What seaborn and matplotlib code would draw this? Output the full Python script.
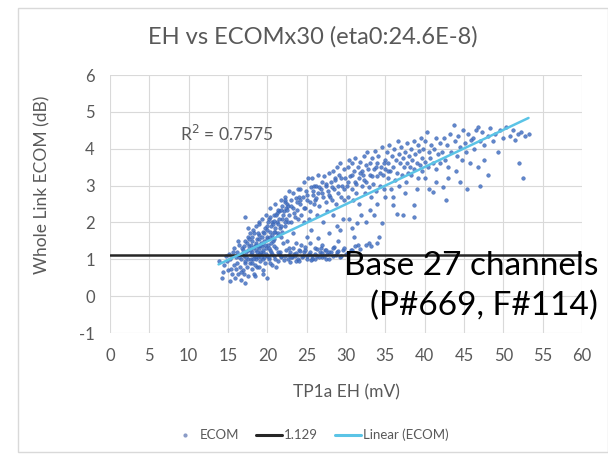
import numpy as np
import pandas as pd
import matplotlib
matplotlib.use("Agg")
import matplotlib.pyplot as plt
from matplotlib.lines import Line2D
from matplotlib.patches import Rectangle
import seaborn as sns

sns.set_theme(style="white")
plt.rcParams['font.family'] = ['Lato', 'DejaVu Sans']
plt.rcParams['axes.unicode_minus'] = False

# ---- data (approximate) ----
ecom_x = [
    13.8, 14.2, 14.5, 14.7, 15.0, 15.2, 15.3, 15.5, 15.6, 15.8, 15.9, 16.0, 14.9, 15.4, 15.7, 14.4, 16.0, 15.1,
    16.1, 16.2, 16.3, 16.4, 16.5, 16.6, 16.7, 16.8, 16.9, 17.0, 17.0, 17.1, 17.2, 17.2, 17.3, 17.4, 17.5, 17.5,
    17.6, 17.7, 17.8, 17.8, 17.9, 18.0, 16.4, 16.9, 17.4, 17.9, 16.6, 17.6, 16.3, 17.1,
    18.0, 18.1, 18.1, 18.2, 18.3, 18.3, 18.4, 18.5, 18.5, 18.6, 18.7, 18.7, 18.8, 18.9, 18.9, 19.0, 19.0, 19.1,
    19.2, 19.2, 19.3, 19.4, 19.4, 19.5, 19.5, 19.6, 19.7, 19.7, 19.8, 19.9, 19.9, 20.0, 18.2, 18.6, 19.1, 19.6,
    18.4, 18.8, 19.3, 19.8, 18.9, 19.5,
    20.0, 20.1, 20.2, 20.2, 20.3, 20.4, 20.5, 20.5, 20.6, 20.7, 20.8, 20.9, 21.0, 21.0, 21.1, 21.2, 21.3, 21.4,
    21.5, 21.5, 21.6, 21.7, 21.8, 21.9, 22.0, 20.3, 20.8, 21.3, 21.8, 20.6, 21.1, 21.6, 20.9, 21.9, 20.4,
    22.1, 22.2, 22.3, 22.3, 22.4, 22.5, 22.6, 22.7, 22.8, 22.9, 23.0, 23.0, 23.1, 23.2, 23.3, 23.4, 23.5, 23.6,
    23.7, 23.8, 23.9, 24.0, 22.5, 23.2, 23.7, 22.8, 23.5, 22.2, 23.9, 22.6,
    24.1, 24.2, 24.3, 24.4, 24.5, 24.6, 24.7, 24.8, 24.9, 25.0, 25.0, 25.1, 25.2, 25.3, 25.4, 25.5, 25.6, 25.7,
    25.8, 25.9, 26.0, 24.3, 24.8, 25.4, 25.9, 24.6, 25.3, 25.7, 24.0, 26.0,
    26.1, 26.2, 26.3, 26.4, 26.4, 26.5, 26.6, 26.7, 26.8, 26.9, 27.0, 27.1, 27.2, 27.3, 27.4, 27.5, 27.6, 27.7,
    27.8, 27.9, 28.0, 26.8, 27.4, 27.9, 26.3, 27.1, 27.6,
    28.1, 28.2, 28.3, 28.4, 28.5, 28.5, 28.6, 28.7, 28.8, 28.9, 29.0, 29.1, 29.2, 29.3, 29.3, 29.4, 29.5, 29.6,
    29.7, 29.8, 29.9, 30.0, 28.3, 29.0, 29.6, 28.8,
    30.1, 30.2, 30.3, 30.4, 30.5, 30.6, 30.7, 30.8, 30.9, 31.0, 31.0, 31.1, 31.2, 31.4, 31.3, 31.5, 31.6, 31.7,
    31.8, 31.9, 32.0, 31.5, 30.4, 32.0, 30.8,
    32.2, 32.3, 32.4, 32.5, 32.6, 32.7, 32.9, 32.9, 33.0, 33.1, 33.2, 33.3, 33.4, 33.5, 33.6, 33.7, 33.8, 33.9,
    34.0, 34.2, 34.1, 34.3, 34.4, 34.6, 34.6, 34.7, 34.8, 34.9, 35.0, 33.0, 34.0, 32.6, 35.0,
    35.2, 35.3, 35.4, 35.5, 35.6, 35.7, 35.8, 36.0, 36.0, 36.1, 36.2, 36.3, 36.5, 36.5, 36.6, 36.7, 36.8, 36.9,
    37.0, 37.1, 37.2, 37.3, 37.4, 37.5, 37.6, 37.7, 37.8, 37.9, 38.0, 36.0, 37.5,
    38.1, 38.2, 38.3, 38.4, 38.6, 38.6, 38.6, 38.7, 38.8, 39.0, 39.1, 39.2, 39.3, 39.4, 39.5, 39.6, 39.7, 39.8,
    40.0, 40.1, 40.3, 40.4, 40.6, 40.5, 40.7, 40.8, 41.0, 41.0, 41.2, 41.4, 41.5, 41.7, 41.9, 42.0, 39.0, 40.0, 41.5,
    42.2, 42.3, 42.4, 42.6, 42.8, 43.0, 43.2, 43.4, 43.7, 43.8, 44.0, 44.1, 44.3, 44.5, 44.7, 44.9, 45.1, 45.3,
    45.5, 45.7, 45.9, 43.0, 42.7, 44.5, 45.4,
    46.1, 46.3, 46.5, 46.8, 46.8, 47.0, 47.0, 47.3, 47.6, 48.0, 48.0, 48.3, 48.7, 49.0, 49.3, 49.6, 50.0, 47.5,
    50.4, 50.8, 51.2, 51.5, 51.9, 52.0, 52.3, 52.5, 52.8, 53.2,
]
ecom_y = [
    0.95, 0.50, 0.85, 1.10, 0.70, 0.40, 1.00, 0.60, 1.20, 0.85, 0.50, 1.05, 0.95, 0.75, 1.30, 0.65, 0.75, 1.15,
    0.90, 1.20, 0.60, 1.40, 0.80, 1.00, 0.45, 1.30, 0.70, 1.10, 0.60, 1.50, 0.90, 2.15, 1.20, 0.80, 1.60, 1.00,
    0.55, 1.35, 0.90, 1.70, 1.15, 0.75, 1.05, 1.25, 1.45, 1.00, 0.65, 1.85, 1.50, 0.35,
    1.20, 1.50, 0.90, 1.80, 1.10, 0.60, 1.35, 1.00, 1.90, 1.25, 0.80, 1.55, 1.05, 2.00, 0.79, 1.30, 1.65, 0.95,
    1.45, 1.15, 2.10, 0.70, 1.75, 1.20, 1.00, 1.50, 1.85, 0.90, 1.30, 0.49, 1.60, 1.10, 1.00, 1.40, 1.20, 1.05,
    0.55, 1.70, 1.35, 2.20, 1.15, 0.60,
    1.80, 1.40, 2.10, 1.00, 1.60, 2.40, 1.20, 1.90, 0.85, 1.50, 2.20, 1.10, 1.75, 2.50, 1.30, 2.00, 0.95, 1.65,
    2.30, 1.15, 1.85, 2.60, 1.05, 2.10, 1.45, 1.25, 1.35, 2.35, 1.60, 2.00, 0.80, 1.20, 1.55, 2.45, 0.90,
    2.30, 1.90, 2.70, 1.10, 2.10, 2.50, 1.00, 2.20, 2.85, 1.20, 2.00, 2.60, 1.05, 2.40, 2.80, 1.15, 2.15, 2.65,
    0.95, 2.35, 2.90, 1.25, 1.50, 1.70, 1.45, 1.30, 1.10, 2.55, 2.10, 2.00,
    2.50, 2.90, 2.20, 1.05, 2.70, 3.10, 1.20, 2.40, 2.85, 1.60, 1.00, 2.60, 3.20, 1.15, 2.30, 2.95, 1.80, 1.10,
    2.75, 3.00, 1.30, 1.40, 1.25, 1.45, 2.50, 2.00, 2.10, 3.20, 2.70, 1.00,
    2.60, 3.00, 1.10, 2.80, 1.57, 3.30, 2.45, 1.20, 2.90, 3.10, 1.05, 2.70, 3.25, 1.25, 2.55, 3.00, 1.15, 2.85,
    3.35, 1.70, 2.70, 1.30, 1.00, 1.20, 2.20, 2.00, 2.30,
    3.10, 2.60, 3.40, 1.10, 1.34, 2.90, 3.20, 2.50, 3.50, 1.20, 2.80, 3.30, 1.05, 1.79, 3.60, 2.70, 3.00, 1.25,
    3.45, 2.60, 3.20, 1.15, 2.20, 1.50, 2.10, 1.90,
    3.00, 3.50, 2.70, 3.70, 3.25, 1.25, 2.90, 3.60, 2.60, 1.60, 3.40, 3.10, 3.75, 1.98, 2.80, 3.50, 3.20, 2.50,
    3.65, 2.20, 3.00, 1.40, 2.10, 3.40, 1.85,
    3.30, 3.80, 2.80, 3.55, 3.10, 3.90, 1.43, 2.95, 3.60, 3.30, 2.70, 3.75, 3.05, 2.20, 3.45, 3.95, 2.85, 3.60,
    3.25, 1.60, 3.80, 3.00, 3.50, 1.98, 4.05, 3.30, 2.90, 3.70, 3.45, 2.35, 2.50, 2.00, 2.70,
    3.90, 3.20, 3.60, 4.10, 3.40, 2.90, 3.80, 2.46, 3.50, 4.00, 3.15, 3.70, 2.24, 3.35, 4.20, 3.85, 3.00, 3.60,
    4.05, 3.30, 3.75, 2.20, 3.50, 3.90, 3.10, 4.15, 3.60, 3.35, 3.80, 2.70, 2.80,
    3.50, 4.00, 3.30, 3.70, 2.15, 2.47, 4.20, 3.45, 3.85, 3.60, 4.10, 3.20, 3.95, 3.55, 4.30, 3.75, 3.40, 4.00,
    3.65, 4.20, 4.45, 3.50, 2.92, 3.90, 3.75, 4.10, 2.83, 3.60, 4.00, 3.45, 4.30, 3.85, 3.60, 4.15, 2.90, 3.20, 3.10,
    3.90, 2.96, 4.30, 3.70, 4.10, 3.50, 4.40, 3.90, 4.63, 4.20, 3.40, 3.80, 4.35, 4.05, 3.70, 4.50, 4.15, 3.90,
    4.40, 3.60, 4.25, 3.20, 2.60, 3.10, 2.90,
    4.30, 4.00, 4.50, 4.59, 3.50, 3.00, 4.20, 4.45, 4.10, 3.28, 4.35, 4.55, 4.20, 4.40, 3.90, 4.50, 4.30, 3.70,
    4.60, 4.35, 4.50, 4.25, 4.40, 3.60, 4.45, 3.20, 4.35, 4.40,
]
# dense cluster around 17-23 mV
dense_x = [16.8, 17.0, 17.3, 17.5, 17.7, 17.9, 18.0, 18.2, 18.3, 18.5, 18.6, 18.8, 18.9, 19.0, 19.1, 19.3, 19.4,
           19.6, 19.7, 19.9, 20.0, 20.1, 20.3, 20.4, 20.6, 20.7, 20.9, 21.0, 21.2, 21.3, 21.5, 21.7, 21.8, 22.0,
           22.2, 22.4, 17.2, 17.8, 18.4, 18.7, 19.2, 19.8, 20.2, 20.5, 20.8, 21.1, 21.4, 21.9, 22.3, 22.6]
dense_y = [1.15, 1.35, 1.05, 1.25, 1.55, 1.40, 1.60, 1.30, 1.70, 1.45, 1.10, 1.35, 1.55, 1.95, 1.40, 1.60, 1.25,
           1.70, 1.40, 1.90, 1.55, 2.00, 1.75, 2.15, 1.65, 1.95, 2.05, 1.85, 2.25, 1.70, 2.10, 2.35, 1.90, 2.20,
           2.00, 2.40, 0.95, 1.25, 0.85, 1.20, 1.05, 1.15, 1.30, 1.45, 1.75, 2.20, 1.95, 1.75, 2.60, 2.45]
# lower branch hugging the 1.129 line
branch_x = [20.2, 20.6, 21.0, 21.4, 21.8, 22.1, 22.4, 22.7, 23.0, 23.3, 23.6, 23.9, 24.2, 24.5, 24.8, 25.1, 25.4,
            25.7, 26.0, 26.3, 26.6, 26.9, 27.2, 27.5, 27.8, 28.1, 28.4, 28.7, 29.0, 29.4, 29.8, 30.2, 30.7, 31.2,
            31.8, 32.5, 33.2, 34.0, 22.9, 24.0, 25.6, 27.0]
branch_y = [1.05, 1.15, 1.00, 1.20, 1.10, 0.98, 1.25, 1.12, 1.05, 1.30, 1.18, 1.02, 1.22, 1.10, 1.32, 1.08, 1.20,
            1.00, 1.15, 1.28, 1.05, 1.18, 1.10, 1.25, 1.02, 1.20, 1.30, 1.12, 1.22, 1.08, 1.30, 1.18, 1.25, 1.35,
            1.28, 1.40, 1.35, 1.45, 0.92, 0.95, 0.97, 1.38]
# upper band 22-35 mV
band_x = [22.5, 23.0, 23.4, 23.8, 24.2, 24.6, 25.0, 25.4, 25.8, 26.2, 26.6, 27.0, 27.4, 27.8, 28.2, 28.6, 29.0,
          29.4, 29.8, 30.3, 30.8, 31.3, 31.8, 32.3, 32.8, 33.3, 33.8, 34.3, 34.8, 35.3]
band_y = [2.35, 2.45, 2.25, 2.55, 2.60, 2.40, 2.75, 2.55, 2.85, 2.65, 2.95, 2.80, 3.05, 2.75, 2.95, 3.15, 3.00,
          3.20, 2.90, 3.10, 3.30, 3.05, 3.35, 3.15, 3.45, 3.25, 3.50, 3.35, 3.60, 3.40]

threshold = 1.129
x_ticks = list(range(0, 61, 5))
y_ticks = list(range(-1, 7))

title = "EH vs ECOMx30 (eta0:24.6E-8)"
x_label = "TP1a EH (mV)"
y_label = "Whole Link ECOM (dB)"
r2_text = "R$^2$ = 0.7575"
legend_labels = ["ECOM", "1.129", "Linear (ECOM)"]
note_lines = ["Base 27 channels", "(P#669, F#114)"]

df = pd.DataFrame({"EH": ecom_x + dense_x + branch_x + band_x,
                   "ECOM": ecom_y + dense_y + branch_y + band_y})

GRAY = "#595959"
GRID = "#d9d9d9"
BLUE = "#4472C4"
CYAN = "#5bc4e6"

fig = plt.figure(figsize=(6.08, 4.63), dpi=100)
fig.patch.set_facecolor("white")
ax = fig.add_axes([110 / 608, 1 - 333 / 463, 472 / 608, 258 / 463])

sns.scatterplot(data=df, x="EH", y="ECOM", ax=ax, s=7, color=BLUE,
                edgecolor="#2f55a4", linewidth=0.3, alpha=0.85, legend=False, zorder=3)
ax.axhline(threshold, color="#262626", lw=1.8, zorder=4)
sns.regplot(data=df, x="EH", y="ECOM", ax=ax, scatter=False, ci=None,
            truncate=True, line_kws=dict(color=CYAN, lw=1.8, zorder=5))

ax.set_xlim(0, 60)
ax.set_ylim(-1, 6)
ax.set_xticks(x_ticks)
ax.set_yticks(y_ticks)
ax.grid(True, color=GRID, lw=0.8)
for s in ax.spines.values():
    s.set_visible(False)
ax.tick_params(axis="x", colors=GRAY, labelsize=12, length=0, pad=11)
ax.tick_params(axis="y", colors=GRAY, labelsize=12, length=0, pad=11)
ax.set_xlabel(x_label, color=GRAY, fontsize=12.5)
ax.set_ylabel(y_label, color=GRAY, fontsize=12.5)
ax.xaxis.set_label_coords(0.5, (333 - 392) / 258)
ax.xaxis.label.set_va("center")
ax.yaxis.set_label_coords((42 - 110) / 472, (333 - 185) / 258)
ax.yaxis.label.set_va("center")
ax.set_axisbelow(True)

ax.text(14.8, 4.4, r2_text, color=GRAY, fontsize=12.5, ha="center", va="center")

fig.text(313 / 608, 1 - 37 / 463, title, color=GRAY, fontsize=17, ha="center", va="center")

handles = [
    Line2D([], [], marker="o", ls="none", ms=2, color="#8a9bc7"),
    Line2D([], [], color="#262626", lw=2.2),
    Line2D([], [], color=CYAN, lw=2.2),
]
fig.legend(handles, legend_labels, loc="center", bbox_to_anchor=(310 / 608, 1 - 435 / 463),
           ncol=3, frameon=False, fontsize=9.5, labelcolor=GRAY, handlelength=2.0,
           handletextpad=0.1, columnspacing=1.3)

fig.text(598 / 608, 1 - 266 / 463, note_lines[0], color="black", fontsize=24, ha="right", va="center")
fig.text(598 / 608, 1 - 306 / 463, note_lines[1], color="black", fontsize=24, ha="right", va="center")

fig.add_artist(Rectangle((18 / 608, 1 - 452 / 463), 590 / 608, 444 / 463,
                         transform=fig.transFigure, fill=False, edgecolor=GRID, lw=1))

fig.savefig("out.png", dpi=100)
